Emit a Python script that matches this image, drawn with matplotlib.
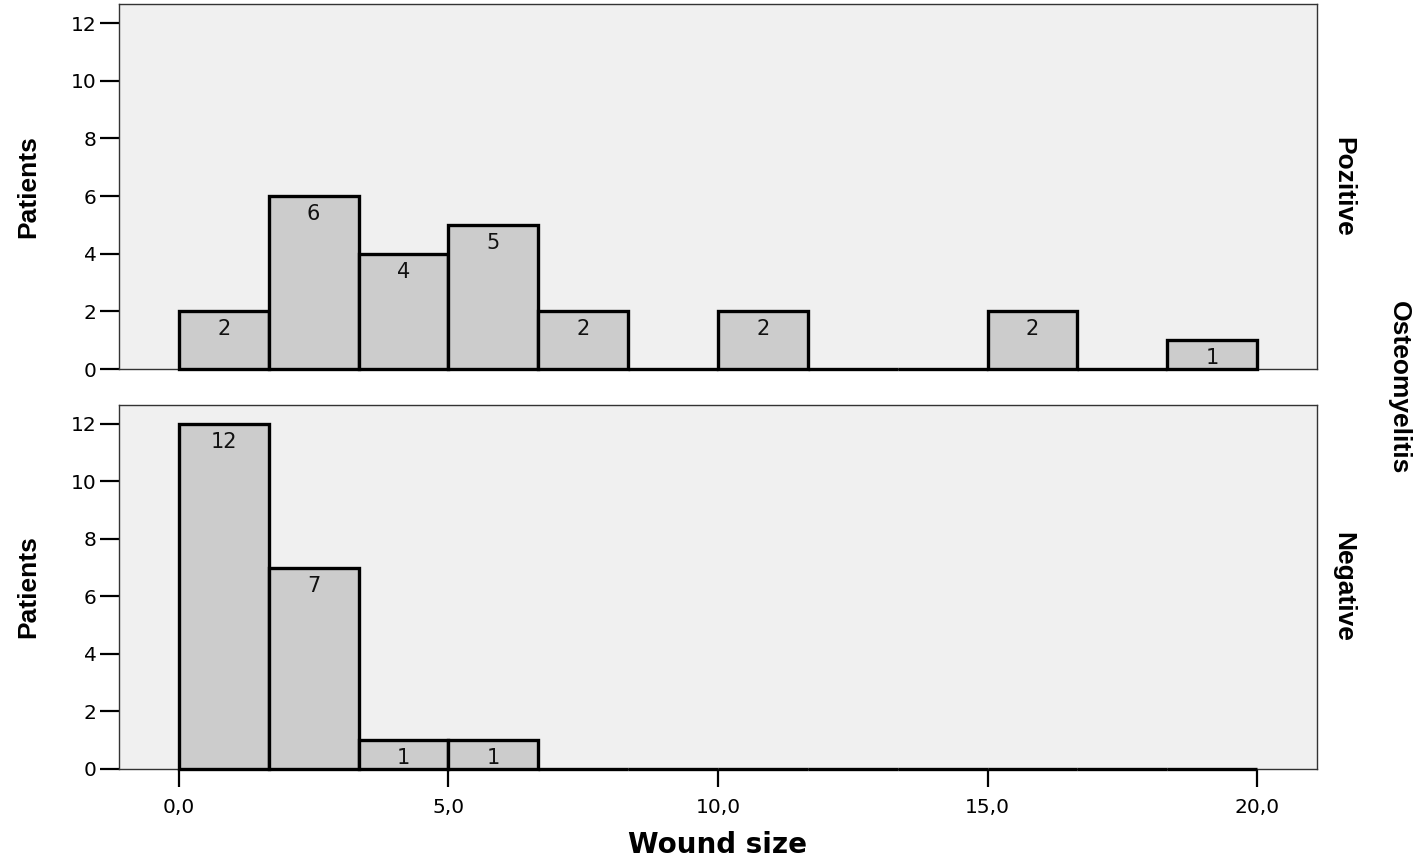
import numpy as np
import matplotlib
matplotlib.use("Agg")
import matplotlib.pyplot as plt

# ─────────────────────────────────────────────
# Data: histogram of wound size by osteomyelitis status
# ─────────────────────────────────────────────
bin_edges = np.linspace(0, 20, 13)          # 12 bins of width 20/12
pozitive_counts = [2, 6, 4, 5, 2, 0, 2, 0, 0, 2, 0, 1]
negative_counts = [12, 7, 1, 1, 0, 0, 0, 0, 0, 0, 0, 0]
panel_names = ["Pozitive", "Negative"]
x_ticks = [0, 5, 10, 15, 20]
x_tick_labels = ["0,0", "5,0", "10,0", "15,0", "20,0"]
y_ticks = [0, 2, 4, 6, 8, 10, 12]

BG = "#f0f0f0"
BAR = "#cccccc"

fig = plt.figure(figsize=(14.27, 8.61), dpi=100)
ax_top = fig.add_axes([0.0834, 0.5714, 0.8395, 0.4234])
ax_bot = fig.add_axes([0.0834, 0.1069, 0.8395, 0.4227])

widths = np.diff(bin_edges)
lefts = bin_edges[:-1]

for ax, counts, name in zip([ax_top, ax_bot], [pozitive_counts, negative_counts], panel_names):
    ax.set_facecolor(BG)
    ax.bar(lefts, counts, width=widths, align="edge", color=BAR,
           edgecolor="black", linewidth=2.4, clip_on=False, zorder=3)
    for x0, w, c in zip(lefts, widths, counts):
        if c > 0:
            ax.annotate(str(c), (x0 + w / 2, c), xytext=(0, -13),
                        textcoords="offset points", ha="center", va="center",
                        fontsize=15, color="#111111", zorder=4)
    ax.set_xlim(-1.11, 21.11)
    ax.set_ylim(0, 12.65)
    ax.set_yticks(y_ticks)
    ax.tick_params(axis="y", direction="out", length=14, width=1.6,
                   labelsize=14.5, pad=2)
    for sp in ax.spines.values():
        sp.set_color("#333333")
        sp.set_linewidth(1.0)
    ax.set_ylabel("Patients", fontsize=19, fontweight="bold",
                  family="Liberation Sans")
    ax.yaxis.set_label_coords(-0.066, 0.5)
    ax.text(1.022, 0.5, name, transform=ax.transAxes, rotation=-90,
            ha="center", va="center", fontsize=19, fontweight="bold",
            family="Liberation Sans")

ax_top.set_xticks([])
ax_bot.set_xticks(x_ticks)
ax_bot.set_xticklabels(x_tick_labels)
ax_bot.tick_params(axis="x", direction="out", length=13, width=1.6,
                   labelsize=14.5, pad=8)

fig.text(0.98, 0.55, "Osteomyelitis", rotation=-90, ha="center", va="center",
         fontsize=19, fontweight="bold", family="Liberation Sans")
fig.text(0.503, 1 - 845 / 861, "Wound size", ha="center", va="center",
         fontsize=20, fontweight="bold")

plt.savefig("out.png", dpi=100)
